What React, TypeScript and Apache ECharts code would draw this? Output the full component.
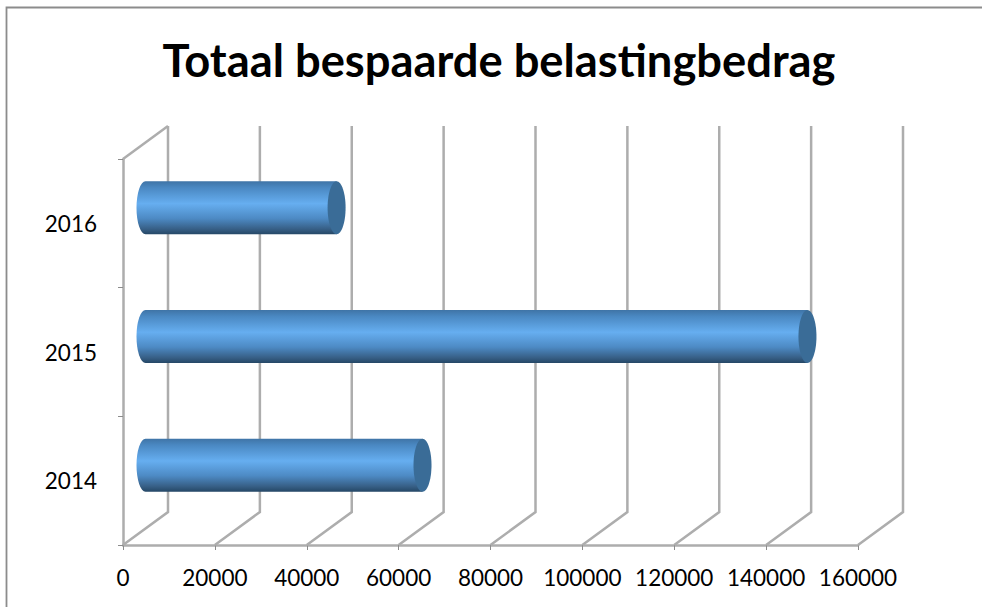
import React, { useEffect, useRef } from "react";
import * as echarts from "echarts";

const titleText = "Totaal bespaarde belastingbedrag";
const categories = ["2014", "2015", "2016"];
const savedAmounts = [60300, 144100, 41600];
const axisTicks = [0, 20000, 40000, 60000, 80000, 100000, 120000, 140000, 160000];

const DEPTH_X = 45;
const DEPTH_Y = 33;
const GREY = "#adadad";

function wallItem(params: any, api: any) {
  const p = api.coord([api.value(0), 0]);
  const cs = params.coordSys;
  const x = p[0];
  const top = cs.y;
  const bottom = cs.y + cs.height;
  return {
    type: "polyline",
    silent: true,
    shape: { points: [[x + DEPTH_X, top - DEPTH_Y], [x + DEPTH_X, bottom - DEPTH_Y], [x, bottom]] },
    style: { stroke: GREY, lineWidth: 2.5, fill: "none" },
  };
}

function cylinderItem(params: any, api: any) {
  const end = api.coord([api.value(0), api.value(1)]);
  const start = api.coord([0, api.value(1)]);
  const ox = DEPTH_X / 2;
  const oy = -DEPTH_Y / 2 + 1;
  const ry = 26.5;
  const rx = 9;
  const x0 = start[0] + ox;
  const x1 = end[0] + ox;
  const cy = end[1] + oy;
  const t = cy - ry;
  const b = cy + ry;
  const d = `M${x0} ${t}L${x1} ${t}L${x1} ${b}L${x0} ${b}A${rx} ${ry} 0 0 1 ${x0} ${t}Z`;
  return {
    type: "group",
    children: [
      {
        type: "path",
        shape: { pathData: d },
        style: {
          fill: new echarts.graphic.LinearGradient(0, 0, 0, 1, [
            { offset: 0, color: "#3f74a6" },
            { offset: 0.12, color: "#4a88c2" },
            { offset: 0.42, color: "#66aef0" },
            { offset: 0.7, color: "#4d8ac4" },
            { offset: 0.9, color: "#375f86" },
            { offset: 1, color: "#254766" },
          ]),
        },
      },
      {
        type: "ellipse",
        shape: { cx: x1, cy, rx, ry },
        style: { fill: "#3a6c97" },
      },
    ],
  };
}

export default function App() {
  const ref = useRef<HTMLDivElement>(null);
  useEffect(() => {
    const chart = echarts.init(ref.current!, undefined, { renderer: "svg" });
    const font = "Lato";
    chart.setOption({
      animation: false,
      backgroundColor: "#ffffff",
      title: {
        text: titleText,
        left: 494,
        top: 32,
        textAlign: "center",
        textStyle: { fontFamily: font, fontSize: 45.3, fontWeight: "bold", color: "#000000" },
      },
      graphic: [
        {
          type: "polyline",
          silent: true,
          shape: { points: [[6.5, 607], [6.5, 7.5], [982, 7.5]] },
          style: { fill: "none", stroke: "#8c8c8c", lineWidth: 1.8 },
        },
      ],
      grid: { left: 123, right: 124, top: 159, bottom: 62 },
      xAxis: {
        type: "value",
        min: 0,
        max: 160000,
        interval: 20000,
        splitLine: { show: false },
        axisLine: { show: true, lineStyle: { color: GREY, width: 2.5 } },
        axisTick: { show: true, length: 5, lineStyle: { color: "#8c8c8c", width: 1 } },
        axisLabel: {
          fontFamily: font,
          fontSize: 22.5,
          color: "#000000",
          margin: 21,
          showMinLabel: true,
          showMaxLabel: true,
          formatter: (v: number) => String(v),
        },
      },
      yAxis: {
        type: "category",
        data: categories,
        axisLine: { show: true, onZero: false, lineStyle: { color: GREY, width: 2.5 } },
        axisTick: { show: true, length: 5, lineStyle: { color: "#8c8c8c", width: 1 } },
        axisLabel: { fontFamily: font, fontSize: 22.5, color: "#000000", margin: 26 },
      },
      series: [
        {
          type: "custom",
          name: "wall",
          coordinateSystem: "cartesian2d",
          renderItem: wallItem,
          data: axisTicks.map((v) => [v, categories[0]]),
          encode: { x: 0, y: 1 },
          silent: true,
          z: 1,
        },
        {
          type: "custom",
          name: "frontTop",
          coordinateSystem: "cartesian2d",
          renderItem: (params: any) => {
            const cs = params.coordSys;
            return {
              type: "line",
              shape: { x1: cs.x, y1: cs.y, x2: cs.x + DEPTH_X, y2: cs.y - DEPTH_Y },
              style: { stroke: GREY, lineWidth: 2.5 },
            };
          },
          data: [[0, categories[0]]],
          silent: true,
          z: 1,
        },
        {
          type: "custom",
          name: "Bespaard",
          coordinateSystem: "cartesian2d",
          renderItem: cylinderItem,
          data: savedAmounts.map((v, i) => [v, categories[i]]),
          encode: { x: 0, y: 1 },
          z: 3,
        },
      ],
    });
    return () => chart.dispose();
  }, []);
  return (
    <div
      ref={ref}
      style={{ position: "fixed", left: 0, top: 0, width: 982, height: 607 }}
    />
  );
}
